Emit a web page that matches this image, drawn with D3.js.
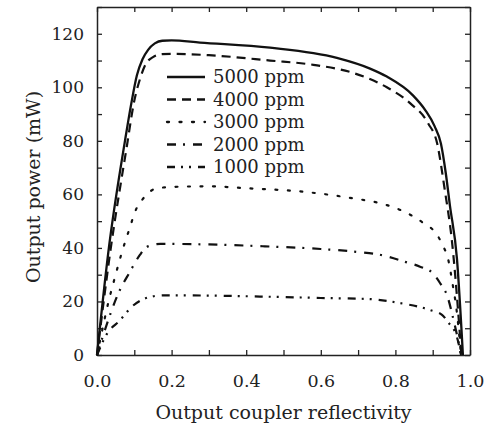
<!DOCTYPE html>
<html>
<head>
<meta charset="utf-8">
<script src="https://cdn.jsdelivr.net/npm/d3@7"></script>
<style>
  body { margin: 0; background: #fff; }
  svg { display: block; }
  text { font-family: "DejaVu Serif", serif; fill: #222; }
</style>
</head>
<body>
<main></main>
<script>
// reflectivity (x) vs output power in mW (y)
const p5000 = [[0,0],[0.03,38],[0.075,80],[0.092,94],[0.107,104.5],[0.122,110.5],[0.137,114],[0.155,116.4],[0.175,117.4],[0.2,117.5],[0.276,116.7],[0.464,114.8],[0.643,111],[0.732,107],[0.777,104],[0.847,97],[0.88,91.5],[0.905,85.5],[0.922,79],[0.935,68],[0.946,56],[0.965,36],[0.981,0]];
const p4000 = [[0,0],[0.035,38],[0.08,78],[0.1,95],[0.115,103],[0.13,108.5],[0.15,111.3],[0.175,112.4],[0.2,112.5],[0.3,112],[0.464,110],[0.58,108.4],[0.686,105.4],[0.777,100],[0.84,94],[0.888,86.5],[0.912,79],[0.932,62],[0.952,42],[0.977,0]];
const p3000 = [[0,0],[0.013,8.6],[0.03,19.4],[0.048,29],[0.067,38.5],[0.089,48],[0.102,53.5],[0.123,58.3],[0.155,62],[0.2,62.8],[0.3,63],[0.4,62.3],[0.552,61],[0.678,58.7],[0.777,56],[0.845,52],[0.875,49.3],[0.908,45.6],[0.928,40.7],[0.941,36],[0.954,26],[0.963,18],[0.976,0]];
const p2000 = [[0,0],[0.03,13],[0.057,23],[0.088,31],[0.115,37.4],[0.134,40.4],[0.17,41.5],[0.3,41.3],[0.45,40.6],[0.6,39.6],[0.697,38.5],[0.767,37.2],[0.826,34.8],[0.866,33],[0.9,30.6],[0.92,26.8],[0.94,21.7],[0.954,14.2],[0.968,5.6],[0.976,0]];
const p1000 = [[0,0],[0.027,8],[0.062,13],[0.093,18],[0.115,20.2],[0.142,21.7],[0.18,22.3],[0.3,22.2],[0.45,21.8],[0.6,21.3],[0.73,20.9],[0.812,19.4],[0.893,16.8],[0.925,15],[0.941,12.3],[0.965,6.7],[0.976,0]];

const seriesNames = ["5000 ppm", "4000 ppm", "3000 ppm", "2000 ppm", "1000 ppm"];
const seriesData = [p5000, p4000, p3000, p2000, p1000];
const dashes = ["none", "9,6", "2,10.5", "9,7,2,8", "8,6,2,6,2,7"];

const xTickLabels = [0, 0.2, 0.4, 0.6, 0.8, 1.0];
const yTickLabels = [0, 20, 40, 60, 80, 100, 120];

const width = 495, height = 432;
const margin = {top: 7, right: 25, bottom: 77, left: 97};

const svg = d3.select('main').append('svg')
  .attr('width', width)
  .attr('height', height);

const x = d3.scaleLinear().domain([0, 1]).range([margin.left, width - margin.right]);
const y = d3.scaleLinear().domain([0, 130]).range([height - margin.bottom, margin.top]);

// ticks point inward on all four sides
const minorX = d3.range(0, 1.0001, 0.1);
const minorY = d3.range(0, 131, 10);

const axisBottom = d3.axisBottom(x).tickValues(minorX).tickSizeInner(-5).tickSizeOuter(0)
  .tickFormat(d => xTickLabels.some(t => Math.abs(t - d) < 1e-6) ? d3.format('.1f')(d) : '');
const axisTop = d3.axisTop(x).tickValues(minorX).tickSizeInner(-5).tickSizeOuter(0).tickFormat('');
const axisLeft = d3.axisLeft(y).tickValues(minorY).tickSizeInner(-5).tickSizeOuter(0)
  .tickFormat(d => yTickLabels.includes(d) ? d : '');
const axisRight = d3.axisRight(y).tickValues(minorY).tickSizeInner(-5).tickSizeOuter(0).tickFormat('');

const gb = svg.append('g').attr('transform', `translate(0,${y(0)})`).call(axisBottom);
const gt = svg.append('g').attr('transform', `translate(0,${y(130)})`).call(axisTop);
const gl = svg.append('g').attr('transform', `translate(${x(0)},0)`).call(axisLeft);
const gr = svg.append('g').attr('transform', `translate(${x(1)},0)`).call(axisRight);

[gb, gt, gl, gr].forEach(g => {
  g.select('.domain').attr('stroke', '#222').attr('stroke-width', 1.5);
  g.selectAll('.tick line').attr('stroke', '#222').attr('stroke-width', 1.3);
});
gb.selectAll('.tick text').attr('y', 20).style('font-size', '17.5px').style('font-family', '"DejaVu Serif", serif').attr('fill', '#222');
gl.selectAll('.tick text').attr('x', -13).style('font-size', '17px').style('font-family', '"DejaVu Serif", serif').attr('fill', '#222');

// curves
const line = d3.line()
  .x(d => x(d[0]))
  .y(d => y(d[1]))
  .curve(d3.curveMonotoneX);

const plot = svg.append('g');
seriesData.forEach((s, i) => {
  plot.append('path')
    .datum(s)
    .attr('fill', 'none')
    .attr('stroke', '#111')
    .attr('stroke-width', i === 0 ? 2.3 : 2.2)
    .attr('stroke-dasharray', dashes[i])
    .attr('stroke-linecap', i === 2 ? 'round' : 'butt')
    .attr('d', line);
});

// legend
const legend = svg.append('g').attr('transform', 'translate(167,77)');
seriesNames.forEach((name, i) => {
  const row = legend.append('g').attr('transform', `translate(0,${i * 22.5})`);
  row.append('line')
    .attr('x1', 0).attr('x2', 38)
    .attr('stroke', '#111')
    .attr('stroke-width', 2.3)
    .attr('stroke-dasharray', dashes[i])
    .attr('stroke-linecap', i === 2 ? 'round' : 'butt');
  row.append('text')
    .attr('x', 46).attr('dy', '0.36em')
    .style('font-size', '18px')
    .text(name);
});

// axis titles
svg.append('text')
  .attr('x', x(0.5)).attr('y', 419)
  .attr('text-anchor', 'middle')
  .style('font-size', '19px')
  .text('Output coupler reflectivity');

svg.append('text')
  .attr('transform', `translate(40,${(y(0) + y(130)) / 2 + 6}) rotate(-90)`)
  .attr('text-anchor', 'middle')
  .style('font-size', '19px')
  .text('Output power (mW)');
</script>
</body>
</html>
